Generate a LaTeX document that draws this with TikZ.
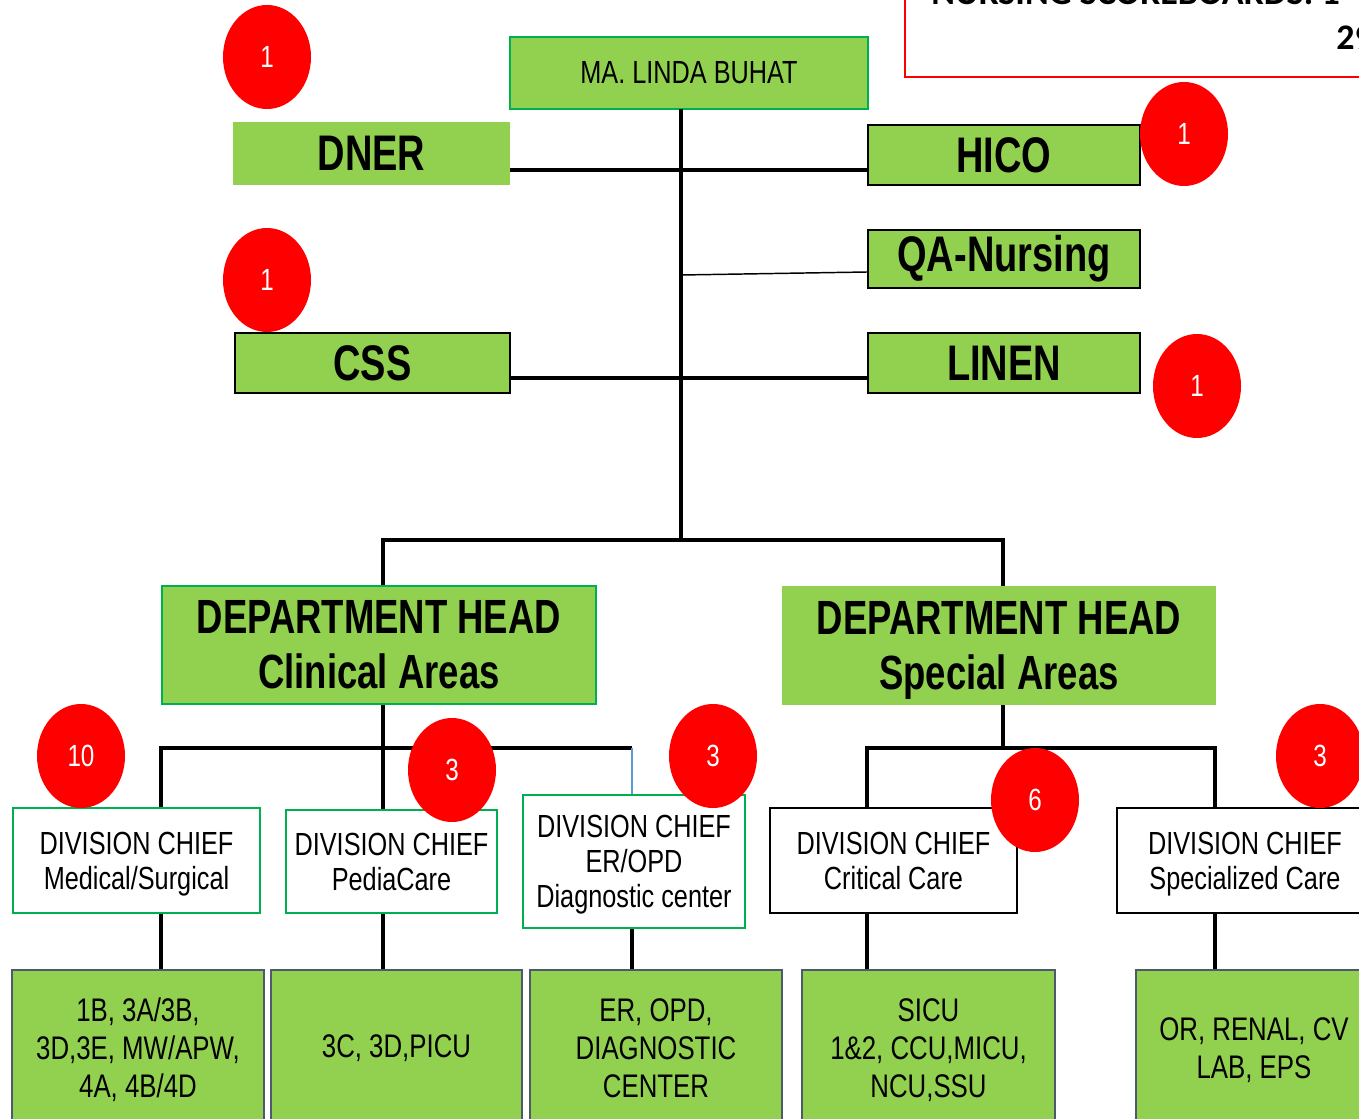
\documentclass[tikz,border=0pt]{standalone}
\usepackage{fontspec}
\setmainfont{Liberation Sans}
\newfontfamily\nar[FakeStretch=0.79]{Liberation Sans}
\newfontfamily\narb[FakeStretch=0.76]{Liberation Sans}
\newfontfamily\calb{Carlito}
\usetikzlibrary{shapes.geometric}
\definecolor{lgreen}{HTML}{92D050}
\definecolor{bgreen}{HTML}{00B050}
\definecolor{slate}{HTML}{4D5A6E}
\definecolor{lblue}{HTML}{5B9BD5}
\definecolor{bred}{HTML}{FF0000}
\begin{document}
\begin{tikzpicture}[x=0.75pt,y=-0.75pt,
  sz/.style 2 args={minimum width=#1*0.75pt, minimum height=#2*0.75pt},
  base/.style={rectangle, inner sep=0pt, align=center},
  gbox/.style={base, fill=lgreen, draw=bgreen, line width=1.3pt},
  kbox/.style={base, fill=lgreen, draw=black, line width=1.3pt},
  nbox/.style={base, fill=lgreen},
  wgbox/.style={base, fill=white, draw=bgreen, line width=1.3pt},
  wkbox/.style={base, fill=white, draw=black, line width=1.3pt},
  ubox/.style={base, fill=lgreen, draw=slate, line width=1.6pt},
  bigb/.style={font=\narb\bfseries\fontsize{37.5}{40}\selectfont},
  headb/.style={font=\narb\bfseries\fontsize{36}{41}\selectfont},
  divt/.style={font=\nar\fontsize{24}{26.25}\selectfont},
  unitt/.style={font=\nar\fontsize{24.5}{28.5}\selectfont},
  conn/.style={draw=black, line width=2.4pt},
  thinconn/.style={draw=black, line width=1.1pt},
  blueconn/.style={draw=lblue, line width=0.9pt},
  badge/.style={ellipse, fill=bred, inner sep=0pt, minimum width=88*0.75pt, minimum height=104*0.75pt, text=white, font=\nar\fontsize{23}{26}\selectfont}
]
\useasboundingbox (0,0) rectangle (1359,1119);
\clip (0,0) rectangle (1359,1119);
\fill[white] (0,0) rectangle (1359,1119);

% top-right scoreboard frame
\draw[bred, line width=1.6pt] (905,-20) -- (905,77) -- (1380,77);
\node[anchor=base west, inner sep=0pt, font=\calb\bfseries\fontsize{27}{30}\selectfont] (sc1) at (931,5) {NURSING SCOREBOARDS: 1};
\node[anchor=base west, inner sep=0pt, font=\calb\bfseries\fontsize{27}{30}\selectfont] (sc2) at (1336,50) {29};

% top level
\node[gbox, sz={358}{72}, font=\nar\fontsize{24}{28}\selectfont] (boss) at (689,73) {\raisebox{-2pt}{MA. LINDA BUHAT}};
\node[nbox, sz={277}{63}, bigb] (dner) at (371.5,153.5) {DNER};
\node[kbox, sz={272}{60}, bigb] (hico) at (1004,155) {HICO};
\node[kbox, sz={272}{58}, bigb] (qa) at (1004,259) {QA-Nursing};
\node[kbox, sz={275}{60}, bigb] (css) at (372.5,363) {CSS};
\node[kbox, sz={272}{60}, bigb] (linen) at (1004,363) {LINEN};

% department heads
\node[gbox, sz={434}{118}, headb] (dh1) at (379,645) {DEPARTMENT HEAD\\Clinical Areas};
\node[nbox, sz={434}{119}, headb] (dh2) at (999,645.5) {DEPARTMENT HEAD\\\smash{Special} Areas};

% division chiefs
\node[wgbox, sz={247}{105}, divt] (dc1) at (136.5,860.5) {DIVISION CHIEF\\\smash{Medical/Surgical}};
\node[wgbox, sz={211}{103}, divt] (dc2) at (391.5,861.5) {DIVISION CHIEF\\PediaCare};
\node[wgbox, sz={222}{133}, divt] (dc3) at (634,861.5) {DIVISION CHIEF\\ER/OPD\\\smash{Diagnostic center}};
\node[wkbox, sz={247}{105}, divt] (dc4) at (893.5,860.5) {DIVISION CHIEF\\Critical Care};
\node[wkbox, sz={256}{105}, divt] (dc5) at (1245,860.5) {DIVISION CHIEF\\\smash{Specialized Care}};

% units
\node[ubox, sz={252}{156}, unitt] (u1) at (138,1048) {1B, 3A/3B,\\3D,3E, MW/APW,\\\smash{4A, 4B/4D}};
\node[ubox, sz={251}{156}, unitt] (u2) at (396.5,1048) {3C, 3D,PICU};
\node[ubox, sz={252}{156}, unitt] (u3) at (656,1048) {ER, OPD,\\DIAGNOSTIC\\CENTER};
\node[ubox, sz={253}{156}, unitt] (u4) at (928.5,1048) {SICU\\1\&2, CCU,MICU,\\\smash{NCU,SSU}};
\node[ubox, sz={236}{156}, unitt] (u5) at (1254,1048) {OR, RENAL, CV\\\smash{LAB, EPS}};

% helper coordinates
\coordinate (yD) at (0,170);
\coordinate (yQ) at (0,272);
\coordinate (yC) at (0,378);
\coordinate (jtop) at (681,109);
\coordinate (jbot) at (681,540);
\coordinate (jq) at (681,275);
\coordinate (jL) at (383,540);
\coordinate (jR) at (1003,540);
\coordinate (bL) at (161,748);
\coordinate (bM) at (383,748);
\coordinate (bR) at (632,748);
\coordinate (cL) at (867,748);
\coordinate (cM) at (1003,748);
\coordinate (cR) at (1215,748);

% connectors
\draw[conn] (jtop) -- (jbot);
\draw[conn] (dner.east |- yD) -- (hico.west |- yD);
\draw[thinconn] (jq) -- (qa.west |- yQ);
\draw[conn] (css.east |- yC) -- (linen.west |- yC);
\draw[conn] (dh1.north -| jL) -- (jL) -- (jR) -- (dh2.north -| jR);

\draw[conn] (dh1.south -| bM) -- (dc2.north -| bM);
\draw[conn] (dc1.north -| bL) -- (bL) -- (bR);
\draw[blueconn] (bR) -- (dc3.north -| bR);
\draw[conn] (dh2.south -| cM) -- (cM);
\draw[conn] (dc4.north -| cL) -- (cL) -- (cR) -- (dc5.north -| cR);

\draw[conn] (dc1.south -| bL) -- (u1.north -| bL);
\draw[conn] (dc2.south -| bM) -- (u2.north -| bM);
\draw[conn] (dc3.south -| bR) -- (u3.north -| bR);
\draw[conn] (dc4.south -| cL) -- (u4.north -| cL);
\draw[conn] (dc5.south -| cR) -- (u5.north -| cR);

% badges
\node[badge] (k1) at (267,57) {1};
\node[badge] (k2) at (1184,134) {1};
\node[badge] (k3) at (267,280) {1};
\node[badge] (k4) at (1197,386) {1};
\node[badge] (k5) at (81,756) {10};
\node[badge] (k6) at (452,770) {3};
\node[badge] (k7) at (713,756) {3};
\node[badge] (k8) at (1035,800) {6};
\node[badge] (k9) at (1320,756) {3};
\end{tikzpicture}
\end{document}
